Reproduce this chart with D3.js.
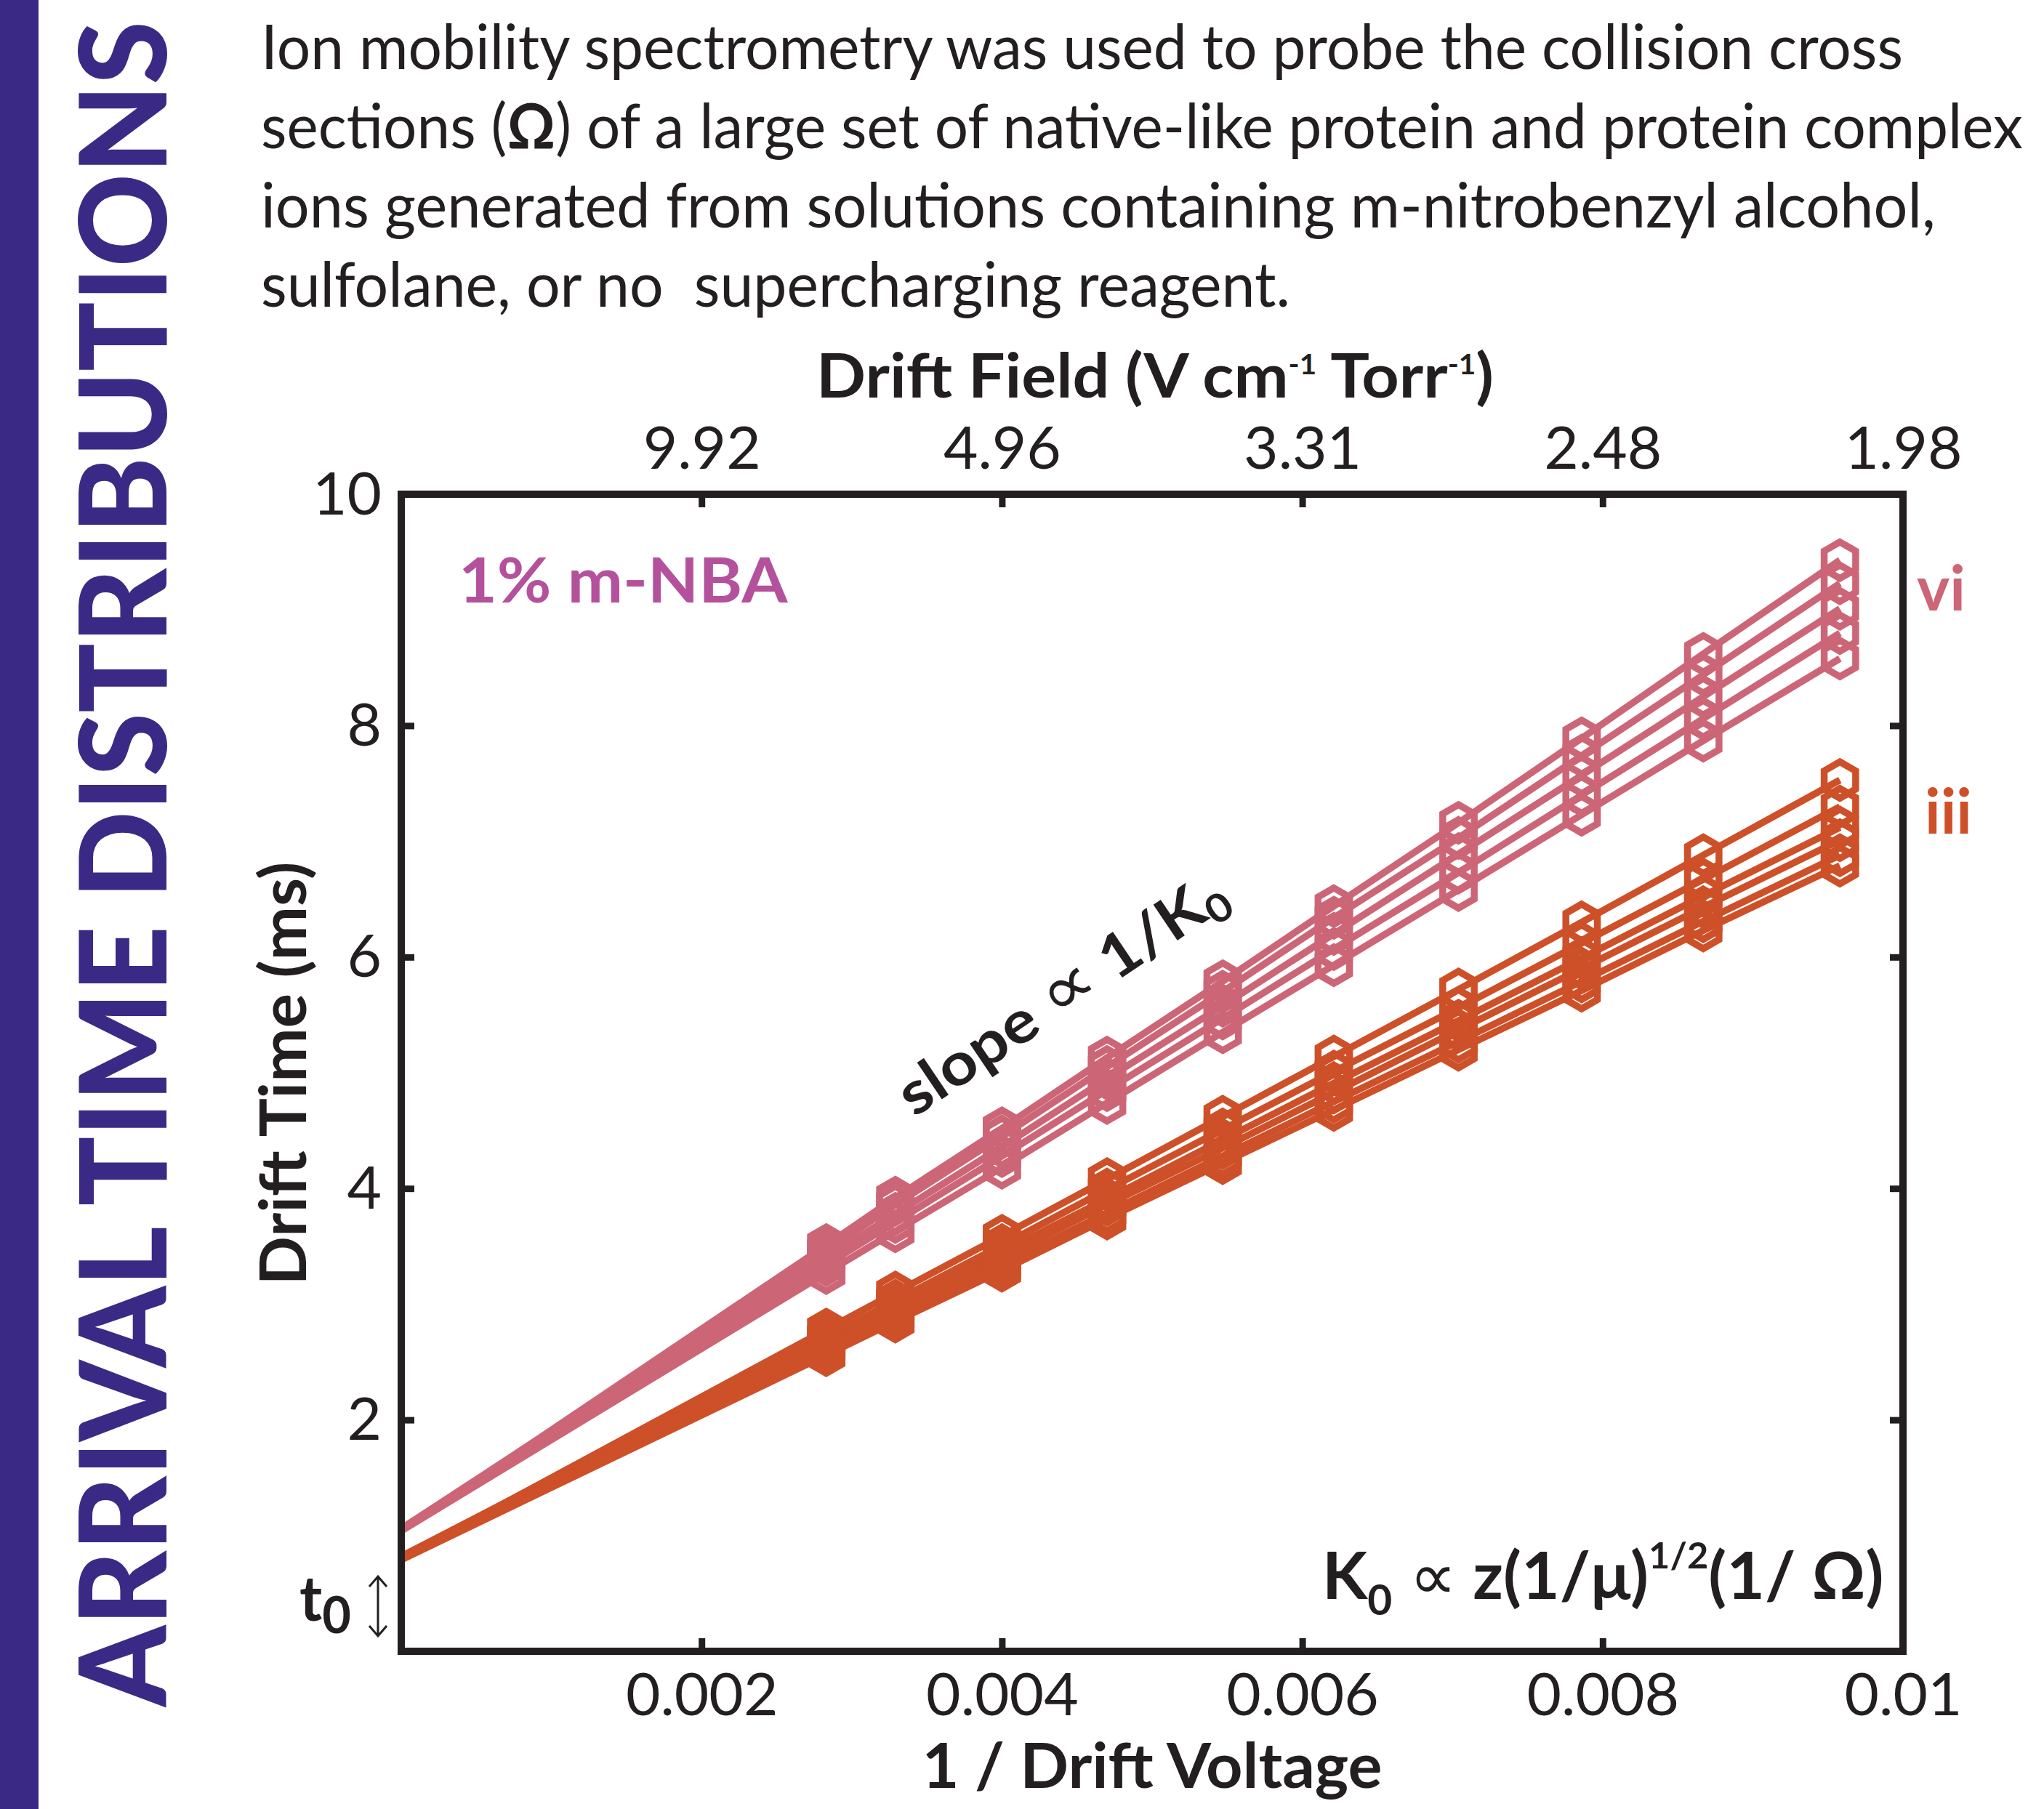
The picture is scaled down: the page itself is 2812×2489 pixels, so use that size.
<!DOCTYPE html>
<html><head><meta charset="utf-8">
<script src="https://cdn.jsdelivr.net/npm/d3@7"></script>
<style>
html,body{margin:0;padding:0;background:#fff;}
svg{display:block;}
text{white-space:pre;}
</style></head><body>
<svg id="chart" width="2812" height="2489"></svg>
<script>
// ---------------- data ----------------
const invVoltage = [0.00283, 0.00329, 0.00400, 0.00470, 0.00547, 0.00621, 0.00704, 0.00786, 0.00867, 0.00958];
// t0 intercepts (value at 1/V = 0)
const vi_t0  = [1.04, 1.06, 1.06, 1.05, 1.04];
const iii_t0 = [0.80, 0.82, 0.82, 0.81, 0.80, 0.79];
// drift times (ms) for the 1% m-NBA ions, group vi
const vi_1 = [3.51, 3.92, 4.52, 5.13, 5.79, 6.44, 7.16, 7.89, 8.62, 9.43];
const vi_2 = [3.46, 3.86, 4.45, 5.05, 5.70, 6.34, 7.03, 7.74, 8.44, 9.23];
const vi_3 = [3.40, 3.78, 4.36, 4.95, 5.58, 6.20, 6.89, 7.57, 8.25, 9.01];
const vi_4 = [3.34, 3.71, 4.28, 4.85, 5.47, 6.07, 6.73, 7.40, 8.06, 8.80];
const vi_5 = [3.27, 3.63, 4.18, 4.74, 5.35, 5.93, 6.58, 7.23, 7.87, 8.58];
// group iii
const iii_1 = [2.78, 3.10, 3.59, 4.08, 4.62, 5.14, 5.72, 6.30, 6.88, 7.53];
const iii_2 = [2.72, 3.03, 3.51, 3.99, 4.51, 5.01, 5.56, 6.12, 6.67, 7.30];
const iii_3 = [2.68, 2.99, 3.45, 3.91, 4.42, 4.91, 5.45, 5.99, 6.53, 7.12];
const iii_4 = [2.64, 2.94, 3.40, 3.86, 4.35, 4.83, 5.37, 5.90, 6.43, 7.01];
const iii_5 = [2.60, 2.89, 3.34, 3.79, 4.28, 4.75, 5.27, 5.79, 6.31, 6.88];
const iii_6 = [2.56, 2.85, 3.29, 3.74, 4.22, 4.68, 5.20, 5.71, 6.23, 6.79];

const xTickValues = [0.002, 0.004, 0.006, 0.008, 0.01];
const xTickLabels = ["0.002", "0.004", "0.006", "0.008", "0.01"];
const fieldTickLabels = ["9.92", "4.96", "3.31", "2.48", "1.98"];
const yTickValues = [2, 4, 6, 8, 10];

const paragraphLines = [
  "Ion mobility spectrometry was used to probe the collision cross",
  "sections (|Ω|) of a large set of native-like protein and protein complex",
  "ions generated from solutions containing m-nitrobenzyl alcohol,",
  "sulfolane, or no  supercharging reagent."
];

// ---------------- styles ----------------
const INK = "#231F20", PURPLE = "#3B2A85", PINK = "#CC6677", ORANGE = "#CD5029", MAGENTA = "#B4519C";
const FONT = "Lato, 'Open Sans', sans-serif";

const svg = d3.select("#chart");
const x = d3.scaleLinear().domain([0, 0.01]).range([552, 2618]);
const y = d3.scaleLinear().domain([0, 10]).range([2272, 680]);

// side bar
svg.append("rect").attr("x", 0).attr("y", 0).attr("width", 53).attr("height", 2489).attr("fill", PURPLE);

function label(px, py, rot, anchor, width) {
  const g = svg.append("g").attr("transform", `translate(${px},${py}) rotate(${rot})`);
  const t = g.append("text").attr("text-anchor", anchor).attr("font-family", FONT);
  t.fit = () => {
    if (width) {
      const w = t.node().getBBox().width;
      t.attr("transform", `scale(${width / w},1)`);
    }
    return t;
  };
  return t;
}

// vertical title
label(229, 2348, -90, "start", 2321)
  .attr("font-size", 166).attr("font-weight", 900).attr("fill", PURPLE)
  .text("ARRIVAL TIME DISTRIBUTIONS").fit();

// paragraph
const paraBase = [95, 204, 313, 422];
const paraWidth = [2259, 2424, 2304, 1416];
paragraphLines.forEach((ln, i) => {
  const t = label(359, paraBase[i], 0, "start", paraWidth[i])
    .attr("font-size", 86).attr("fill", INK);
  ln.split("|").forEach((part, j) => {
    t.append("tspan").attr("font-weight", j % 2 ? 700 : 400).text(part);
  });
  t.fit();
});

// ---------------- series ----------------
const hexagon = {
  draw(ctx, size) {
    const r = Math.sqrt(size);
    for (let k = 0; k < 6; k++) {
      const a = (-90 + 60 * k) * Math.PI / 180;
      const px = r * Math.cos(a), py = r * Math.sin(a);
      if (k === 0) ctx.moveTo(px, py); else ctx.lineTo(px, py);
    }
    ctx.closePath();
  }
};
const hexPath = d3.symbol().type(hexagon).size(25 * 25);
const line = d3.line().x(d => x(d[0])).y(d => y(d[1]));

function drawGroup(seriesList, t0s, color) {
  const g = svg.append("g");
  seriesList.forEach((vals, i) => {
    const pts = [[0, t0s[i]]].concat(vals.map((v, j) => [invVoltage[j], v]));
    g.append("path").attr("d", line(pts)).attr("fill", "none")
      .attr("stroke", color).attr("stroke-width", 9.5);
  });
  seriesList.forEach(vals => {
    g.selectAll(null).data(vals.map((v, j) => [invVoltage[j], v])).enter()
      .append("path").attr("d", hexPath)
      .attr("transform", d => `translate(${x(d[0])},${y(d[1])})`)
      .attr("fill", "none").attr("stroke", color).attr("stroke-width", 9.5);
  });
}
drawGroup([vi_1, vi_2, vi_3, vi_4, vi_5], vi_t0, PINK);
drawGroup([iii_1, iii_2, iii_3, iii_4, iii_5, iii_6], iii_t0, ORANGE);

// ---------------- axes ----------------
function styleAxis(g) {
  g.select(".domain").remove();
  g.selectAll(".tick line").attr("stroke", INK).attr("stroke-width", 9);
  g.selectAll(".tick text").attr("fill", INK).attr("font-family", FONT).attr("font-size", 82);
}
const gb = svg.append("g").attr("transform", `translate(0,${y(0)})`)
  .call(d3.axisBottom(x).tickValues(xTickValues).tickSize(-18)
    .tickFormat((d, i) => xTickLabels[i]));
styleAxis(gb);
gb.selectAll(".tick text").attr("y", 88).attr("dy", 0);

const gt = svg.append("g").attr("transform", `translate(0,${y(10)})`)
  .call(d3.axisTop(x).tickValues(xTickValues).tickSize(-18)
    .tickFormat((d, i) => fieldTickLabels[i]));
styleAxis(gt);
gt.selectAll(".tick text").attr("y", -35).attr("dy", 0);

const gl = svg.append("g").attr("transform", `translate(${x(0)},0)`)
  .call(d3.axisLeft(y).tickValues(yTickValues).tickSize(-18));
styleAxis(gl);
gl.selectAll(".tick text").attr("x", -27).attr("dy", "0.33em");

const gr = svg.append("g").attr("transform", `translate(${x(0.01)},0)`)
  .call(d3.axisRight(y).tickValues(yTickValues).tickSize(-18).tickFormat(""));
styleAxis(gr);

// frame
svg.append("rect").attr("x", x(0)).attr("y", y(10))
  .attr("width", x(0.01) - x(0)).attr("height", y(0) - y(10))
  .attr("fill", "none").attr("stroke", INK).attr("stroke-width", 10);

// axis titles
const tt = label(1589, 547, 0, "middle", 932).attr("font-size", 84).attr("font-weight", 700).attr("fill", INK);
tt.append("tspan").text("Drift Field (V cm");
tt.append("tspan").attr("font-size", 38).attr("dy", -32).text("-1");
tt.append("tspan").attr("dy", 32).text(" Torr");
tt.append("tspan").attr("font-size", 38).attr("dy", -32).text("-1");
tt.append("tspan").attr("dy", 32).text(")");
tt.fit();

label(1585, 2460, 0, "middle", 633).attr("font-size", 86).attr("font-weight", 700).attr("fill", INK)
  .text("1 / Drift Voltage").fit();

label(421, 1477, -90, "middle", 583).attr("font-size", 88).attr("font-weight", 700).attr("fill", INK)
  .text("Drift Time (ms)").fit();

// annotations
label(631, 829, 0, "start", 454).attr("font-size", 86).attr("font-weight", 700).attr("fill", MAGENTA)
  .text("1% m-NBA").fit();
label(2637, 840, 0, "start", 67).attr("font-size", 86).attr("font-weight", 700).attr("fill", PINK)
  .text("vi").fit();
label(2648, 1147, 0, "start", 65).attr("font-size", 86).attr("font-weight", 700).attr("fill", ORANGE)
  .text("iii").fit();

const sl = label(1258, 1538, -34, "start", 527).attr("font-size", 82).attr("font-weight", 700).attr("fill", INK);
sl.append("tspan").text("slope ");
sl.append("tspan").attr("font-weight", 400).attr("font-size", 96).text("\u221D");
sl.append("tspan").text(" 1/K");
sl.append("tspan").attr("font-size", 54).attr("dy", 14).text("0");
sl.fit();

const fm = label(1819, 2200, 0, "start", 773).attr("font-size", 90).attr("font-weight", 700).attr("fill", INK);
fm.append("tspan").text("K");
fm.append("tspan").attr("font-size", 58).attr("dy", 22).text("0");
fm.append("tspan").attr("font-weight", 400).attr("dy", -22).text(" \u221D ");
fm.append("tspan").text("z(1/\u03BC)");
fm.append("tspan").attr("font-size", 50).attr("dy", -42).text("1/2");
fm.append("tspan").attr("dy", 42).text("(1/ \u03A9)");
fm.fit();

const t0 = label(412, 2230, 0, "start", 71).attr("font-size", 86).attr("font-weight", 700).attr("fill", INK);
t0.append("tspan").text("t");
t0.append("tspan").attr("font-size", 70).attr("dy", 17).text("0");
t0.fit();
svg.append("path")
  .attr("d", "M520,2170V2250M508,2183L520,2169L532,2183M508,2237L520,2251L532,2237")
  .attr("fill", "none").attr("stroke", INK).attr("stroke-width", 3);
</script>
</body></html>
